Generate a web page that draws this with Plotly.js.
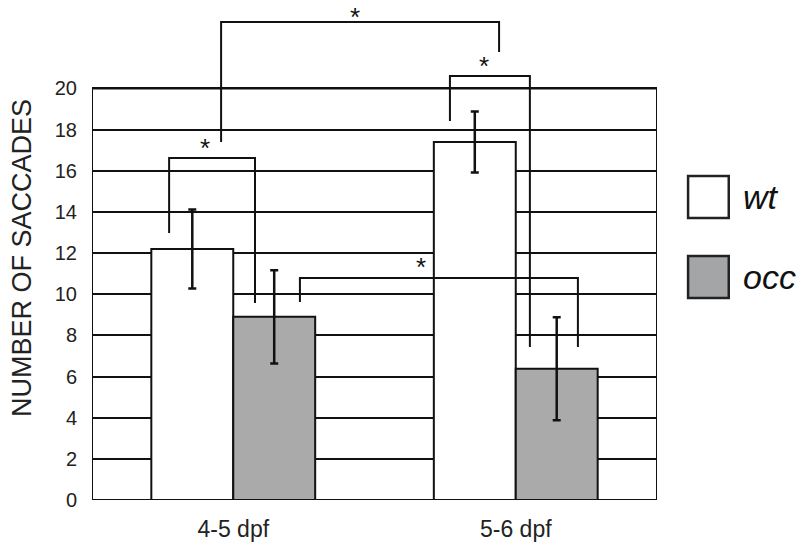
<!DOCTYPE html>
<html>
<head>
<meta charset="utf-8">
<script src="https://cdn.plot.ly/plotly-3.0.1.min.js"></script>
<style>html,body{margin:0;padding:0;background:#fff;}#chart{width:800px;height:549px;}</style>
</head>
<body>
<div id="chart"></div>
<script>
// ---- data ----
const categories = ["4-5 dpf", "5-6 dpf"];
const seriesNames = ["wt", "occ"];
const wtValues = [12.2, 17.4];
const wtErrors = [1.92, 1.48];
const occValues = [8.9, 6.38];
const occErrors = [2.27, 2.5];
const yTickValues = [0, 2, 4, 6, 8, 10, 12, 14, 16, 18, 20];
const yTitle = "NUMBER OF SACCADES";

// significance brackets in category/data units
const bracketXLeft  = [-0.227, -0.043, 0.767, 0.236];
const bracketXRight = [0.077, 0.941, 1.050, 1.220];
const bracketYLeftFoot  = [12.98, 17.40, 18.42, 9.62];
const bracketYTop       = [16.62, 23.23, 20.61, 10.79];
const bracketYRightFoot = [9.57, 21.77, 7.44, 7.44];
const starX = [-0.1, 0.431, 0.887, 0.665];
const starY = [17.1, 24.3, 21.1, 11.3];
const starAnchor = ["middle", "top", "middle", "middle"];

// ---- styles ----
const FONT = "Arial, 'Liberation Sans', Helvetica, sans-serif";
const wtColor = "#ffffff";
const occColor = "#aaaaaa";

const traces = [
  {
    type: "bar", name: seriesNames[0], x: categories, y: wtValues,
    marker: {color: wtColor, line: {color: "#111", width: 2}},
    error_y: {type: "data", array: wtErrors, visible: true, color: "#111", thickness: 2.5, width: 4},
    showlegend: false
  },
  {
    type: "bar", name: seriesNames[1], x: categories, y: occValues,
    marker: {color: occColor, line: {color: "#111", width: 2}},
    error_y: {type: "data", array: occErrors, visible: true, color: "#111", thickness: 2.5, width: 4},
    showlegend: false
  }
];

const shapes = [];
// frame of the plotting box (0..20)
shapes.push({type: "rect", xref: "x", yref: "y", x0: -0.5, x1: 1.5, y0: 0, y1: yTickValues[yTickValues.length - 1],
  line: {color: "#111", width: 2}, fillcolor: "rgba(0,0,0,0)", layer: "below"});
for (let i = 0; i < bracketXLeft.length; i++) {
  shapes.push({
    type: "path", xref: "x", yref: "y", layer: "above",
    path: `M ${bracketXLeft[i]} ${bracketYLeftFoot[i]} L ${bracketXLeft[i]} ${bracketYTop[i]} L ${bracketXRight[i]} ${bracketYTop[i]} L ${bracketXRight[i]} ${bracketYRightFoot[i]}`,
    line: {color: "#111", width: 2}
  });
}
// legend keys
const legendColors = [wtColor, "#a3a5a7"];
const legendY = [[0.564, 0.648], [0.404, 0.488]];
for (let i = 0; i < seriesNames.length; i++) {
  shapes.push({type: "rect", xref: "paper", yref: "paper", x0: 1.055, x1: 1.127, y0: legendY[i][0], y1: legendY[i][1],
    line: {color: "#222", width: 2.5}, fillcolor: legendColors[i]});
}

const annotations = [];
for (let i = 0; i < starX.length; i++) {
  annotations.push({x: starX[i], y: starY[i], xref: "x", yref: "y", text: "*", showarrow: false,
    font: {family: FONT, size: 26, color: "#111"}, xanchor: "center", yanchor: starAnchor[i]});
}
for (let i = 0; i < seriesNames.length; i++) {
  annotations.push({x: 1.148, y: (legendY[i][0] + legendY[i][1]) / 2, xref: "paper", yref: "paper",
    text: "<i>" + seriesNames[i] + "</i>", showarrow: false, xanchor: "left", yanchor: "middle",
    font: {family: FONT, size: 34, color: "#111"}});
}
// y-axis title
annotations.push({x: -0.124, y: 0.484, xref: "paper", yref: "paper", text: yTitle, textangle: -90,
  showarrow: false, xanchor: "center", yanchor: "middle", font: {family: FONT, size: 27, color: "#222"}});

const layout = {
  width: 800, height: 549,
  margin: {l: 92, r: 143, t: 0, b: 49},
  paper_bgcolor: "#fff", plot_bgcolor: "#fff",
  barmode: "group", bargap: 0.42, bargroupgap: 0,
  showlegend: false,
  font: {family: FONT, color: "#222"},
  xaxis: {
    type: "category", range: [-0.5, 1.5], showline: false, showgrid: false, zeroline: false,
    ticks: "outside", ticklen: 8, tickcolor: "rgba(0,0,0,0)",
    tickfont: {family: FONT, size: 23, color: "#222"}, fixedrange: true
  },
  yaxis: {
    range: [0, 24.3], tickvals: yTickValues, ticktext: yTickValues.map(String),
    showline: false, showgrid: true, gridcolor: "#111", gridwidth: 2, zeroline: false,
    ticks: "outside", ticklen: 10, tickcolor: "rgba(0,0,0,0)",
    tickfont: {family: FONT, size: 20, color: "#222"},
    automargin: false, fixedrange: true
  },
  shapes: shapes,
  annotations: annotations
};

Plotly.newPlot("chart", traces, layout, {displayModeBar: false, staticPlot: true});
</script>
</body>
</html>
